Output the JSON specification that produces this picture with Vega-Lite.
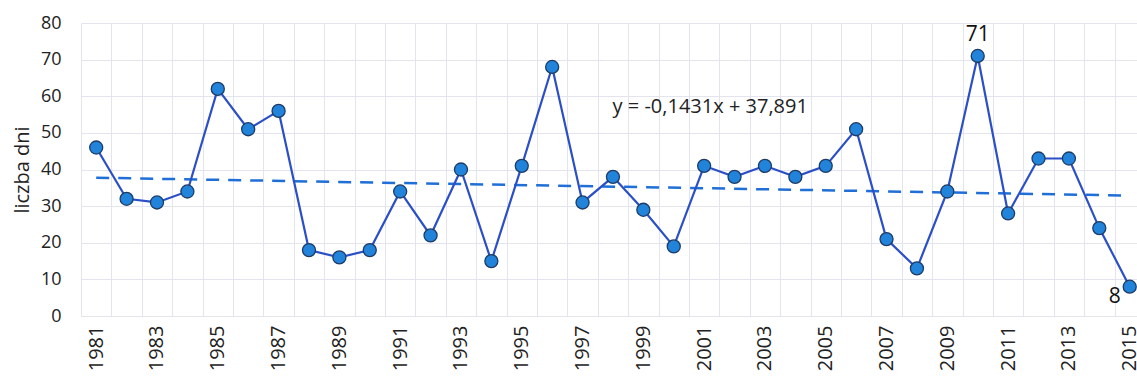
{
  "$schema": "https://vega.github.io/schema/vega-lite/v6.json",
  "autosize": {"type": "none"},
  "padding": {"left": 81, "top": 23, "right": 0, "bottom": 65},
  "width": 1056,
  "height": 293,
  "background": "white",
  "config": {
    "font": "Open Sans",
    "view": {"stroke": null}
  },
  "datasets": {
    "days": [
      {"year": 1981, "days": 46}, {"year": 1982, "days": 32}, {"year": 1983, "days": 31},
      {"year": 1984, "days": 34}, {"year": 1985, "days": 62}, {"year": 1986, "days": 51},
      {"year": 1987, "days": 56}, {"year": 1988, "days": 18}, {"year": 1989, "days": 16},
      {"year": 1990, "days": 18}, {"year": 1991, "days": 34}, {"year": 1992, "days": 22},
      {"year": 1993, "days": 40}, {"year": 1994, "days": 15}, {"year": 1995, "days": 41},
      {"year": 1996, "days": 68}, {"year": 1997, "days": 31}, {"year": 1998, "days": 38},
      {"year": 1999, "days": 29}, {"year": 2000, "days": 19}, {"year": 2001, "days": 41},
      {"year": 2002, "days": 38}, {"year": 2003, "days": 41}, {"year": 2004, "days": 38},
      {"year": 2005, "days": 41}, {"year": 2006, "days": 51}, {"year": 2007, "days": 21},
      {"year": 2008, "days": 13}, {"year": 2009, "days": 34}, {"year": 2010, "days": 71},
      {"year": 2011, "days": 28}, {"year": 2012, "days": 43}, {"year": 2013, "days": 43},
      {"year": 2014, "days": 24}, {"year": 2015, "days": 8}
    ],
    "trend": [
      {"year": 1981, "days": 37.75},
      {"year": 2015, "days": 32.88}
    ],
    "equation": [
      {"year": 2001.2, "days": 57, "text": "y = -0,1431x + 37,891"}
    ],
    "maxlabel": [{"year": 2010, "days": 71, "text": "71"}],
    "minlabel": [{"year": 2015, "days": 8, "text": "8"}]
  },
  "resolve": {"axis": {"x": "independent", "y": "independent"}},
  "layer": [
    {
      "data": {"name": "days"},
      "mark": {"type": "rule", "opacity": 0},
      "encoding": {
        "x": {
          "field": "year", "type": "quantitative",
          "scale": {"domain": [1980.5, 2015.24], "nice": false, "zero": false},
          "axis": {
            "orient": "top",
            "values": [1980.5,1981.5,1982.5,1983.5,1984.5,1985.5,1986.5,1987.5,1988.5,1989.5,1990.5,1991.5,1992.5,1993.5,1994.5,1995.5,1996.5,1997.5,1998.5,1999.5,2000.5,2001.5,2002.5,2003.5,2004.5,2005.5,2006.5,2007.5,2008.5,2009.5,2010.5,2011.5,2012.5,2013.5,2014.5],
            "labels": false, "ticks": false, "domain": false, "title": null,
            "grid": true, "gridColor": "#e3e4ee", "gridWidth": 1
          }
        },
        "y": {
          "field": "days", "type": "quantitative",
          "scale": {"domain": [0, 80], "nice": false},
          "axis": {
            "values": [0,10,20,30,40,50,60,70,80],
            "grid": true, "gridColor": "#e3e4ee", "gridWidth": 1,
            "domain": false, "ticks": false,
            "labelFontSize": 18, "labelColor": "#222222", "labelPadding": 20,
            "title": "liczba dni", "titleFontSize": 20, "titleFontWeight": "normal",
            "titleColor": "#222222", "titlePadding": 8
          }
        }
      }
    },
    {
      "data": {"name": "trend"},
      "mark": {"type": "line", "color": "#1f6fd6", "strokeWidth": 2.5, "strokeDash": [13, 9]},
      "encoding": {
        "x": {
          "field": "year", "type": "quantitative",
          "axis": {
            "orient": "bottom",
            "values": [1981,1983,1985,1987,1989,1991,1993,1995,1997,1999,2001,2003,2005,2007,2009,2011,2013,2015],
            "format": "d", "labelAngle": -90, "labelFontSize": 20, "labelColor": "#222222",
            "labelPadding": 9, "grid": false, "ticks": false, "domain": false, "title": null,
            "labelFlush": false, "labelOverlap": false
          }
        },
        "y": {"field": "days", "type": "quantitative", "axis": null}
      }
    },
    {
      "data": {"name": "days"},
      "mark": {"type": "line", "color": "#2b4fc6", "strokeWidth": 2.2},
      "encoding": {
        "x": {"field": "year", "type": "quantitative", "axis": null},
        "y": {"field": "days", "type": "quantitative", "axis": null}
      }
    },
    {
      "data": {"name": "days"},
      "mark": {"type": "point", "filled": true, "shape": "circle", "size": 170, "fill": "#2184da", "stroke": "#1d3b66", "strokeWidth": 1.3, "opacity": 1},
      "encoding": {
        "x": {"field": "year", "type": "quantitative", "axis": null},
        "y": {"field": "days", "type": "quantitative", "axis": null}
      }
    },
    {
      "data": {"name": "maxlabel"},
      "mark": {"type": "text", "fontSize": 21, "dy": -21, "color": "#111111"},
      "encoding": {
        "x": {"field": "year", "type": "quantitative", "axis": null},
        "y": {"field": "days", "type": "quantitative", "axis": null},
        "text": {"field": "text"}
      }
    },
    {
      "data": {"name": "minlabel"},
      "mark": {"type": "text", "fontSize": 21, "dx": -15, "dy": 10, "color": "#111111"},
      "encoding": {
        "x": {"field": "year", "type": "quantitative", "axis": null},
        "y": {"field": "days", "type": "quantitative", "axis": null},
        "text": {"field": "text"}
      }
    },
    {
      "data": {"name": "equation"},
      "mark": {"type": "text", "fontSize": 20, "color": "#222222"},
      "encoding": {
        "x": {"field": "year", "type": "quantitative", "axis": null},
        "y": {"field": "days", "type": "quantitative", "axis": null},
        "text": {"field": "text"}
      }
    }
  ]
}
